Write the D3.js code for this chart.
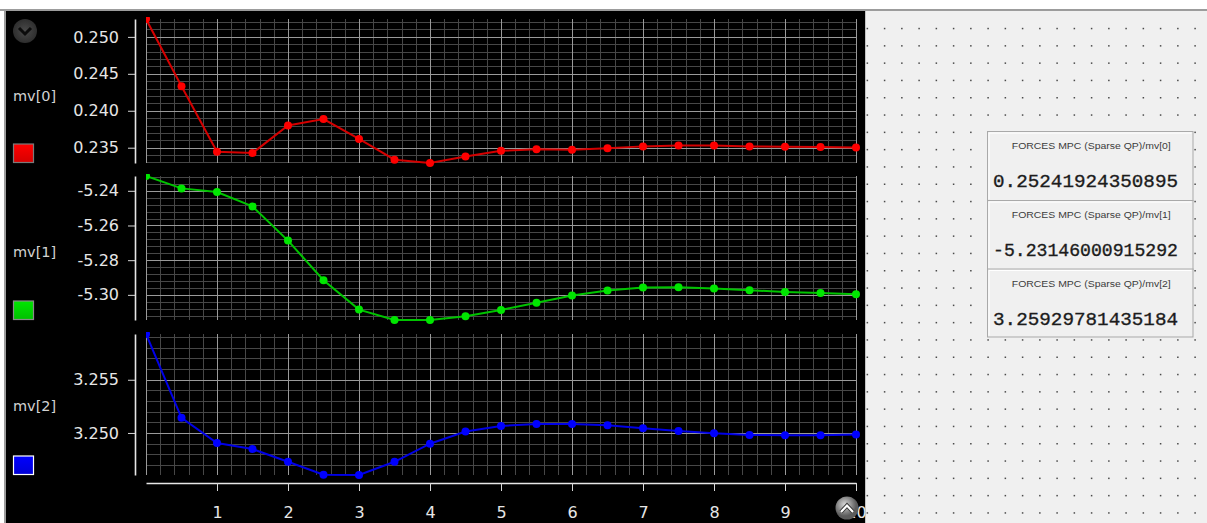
<!DOCTYPE html>
<html>
<head>
<meta charset="utf-8">
<script src="https://cdn.jsdelivr.net/npm/d3@7"></script>
<style>
  body { margin: 0; background: #fff; overflow: hidden; }
  svg { display: block; }
</style>
</head>
<body>
<svg id="chart" width="1207" height="523"></svg>
<script>
// ---- data ----
const timeSteps = [0, 0.5, 1, 1.5, 2, 2.5, 3, 3.5, 4, 4.5, 5, 5.5, 6, 6.5, 7, 7.5, 8, 8.5, 9, 9.5, 10]
const mv0 = [0.25242, 0.24332, 0.23446, 0.23428, 0.23801, 0.23888, 0.23618, 0.23338, 0.23293, 0.23382, 0.23459,
  0.23478, 0.23473, 0.23491, 0.23518, 0.23531, 0.23531, 0.23518, 0.23514, 0.23509, 0.23504]
const mv1 = [-5.23146, -5.2386, -5.2407, -5.2490, -5.2687, -5.2916, -5.3085, -5.3145, -5.3145, -5.3124, -5.3087,
  -5.3046, -5.3004, -5.2975, -5.2958, -5.2956, -5.2964, -5.2973, -5.2983, -5.2990, -5.2996]
const mv2 = [3.25930, 3.25142, 3.24906, 3.24849, 3.24729, 3.24608, 3.24605, 3.24729, 3.24899, 3.25013, 3.25066,
  3.25085, 3.25085, 3.25073, 3.25045, 3.25019, 3.24997, 3.24981, 3.24978, 3.24978, 3.24985]
const seriesNames = ['mv[0]', 'mv[1]', 'mv[2]']
const yMajorSteps = [0.005, 0.02, 0.005]
const yDecimals = [3, 2, 3]
const xTickValues = [1, 2, 3, 4, 5, 6, 7, 8, 9, 10]
const displayTitles = ['FORCES MPC (Sparse QP)/mv[0]', 'FORCES MPC (Sparse QP)/mv[1]', 'FORCES MPC (Sparse QP)/mv[2]']
const displayValues = ['0.25241924350895', '-5.23146000915292', '3.25929781435184']

// ---- layout / style ----
const W = 1207
const H = 523
const bands = [[19, 163], [176, 320], [334, 475]]
const labelBaselines = [101, 257, 411]
const lineColors = ['#d40000', '#00c400', '#0000e6']
const dotColors = ['#ff0000', '#00e600', '#0000ff']
const swatchStroke = ['#7a7a7a', '#8a8a8a', '#ffffff']
const tickFont = 'DejaVu Sans, Verdana, sans-serif'

const svg = d3.select('#chart')
const defs = svg.append('defs')

const series = [mv0, mv1, mv2]
const x = d3.scaleLinear().domain([0, 10]).range([146, 856])

// ticks at multiples of a step, without float drift
const stepTicks = (domain, step) => {
  const [d0, d1] = domain[0] < domain[1] ? domain : [domain[1], domain[0]]
  const k0 = Math.ceil(d0 / step - 1e-6)
  const k1 = Math.floor(d1 / step + 1e-6)
  return d3.range(k0, k1 + 1).map(k => +(k * step).toFixed(6))
}

// window frame
svg.append('rect').attr('width', W).attr('height', H).attr('fill', '#ffffff')
svg.append('rect').attr('x', 0).attr('y', 9).attr('width', W).attr('height', 2).attr('fill', '#9c9c9c')
svg.append('rect').attr('x', 4).attr('y', 9).attr('width', 2).attr('height', H).attr('fill', '#9c9c9c')
svg.append('rect').attr('x', 6).attr('y', 11).attr('width', 859).attr('height', H - 11).attr('fill', '#000')

const xMinor = stepTicks(x.domain(), 0.2).filter(v => Math.abs(v - Math.round(v)) > 1e-6)
const xMajor = stepTicks(x.domain(), 1)

series.forEach((values, i) => {
  const [top, bottom] = bands[i]
  const y = d3.scaleLinear().domain(d3.extent(values)).range([bottom, top])
  const step = yMajorSteps[i]
  const yMajor = stepTicks(y.domain(), step)
  const yMinor = stepTicks(y.domain(), step / 5).filter(v => !yMajor.some(m => Math.abs(m - v) < 1e-7))

  const g = svg.append('g').attr('class', 'panel panel-' + i)

  // grid
  const grid = g.append('g').attr('class', 'grid')
  grid.selectAll('line.hmin').data(yMinor).join('line')
    .attr('x1', x.range()[0]).attr('x2', x.range()[1])
    .attr('y1', d => Math.round(y(d)) + 0.5).attr('y2', d => Math.round(y(d)) + 0.5)
    .attr('stroke', '#474747')
  grid.selectAll('line.vmin').data(xMinor).join('line')
    .attr('x1', d => Math.round(x(d)) + 0.5).attr('x2', d => Math.round(x(d)) + 0.5)
    .attr('y1', top).attr('y2', bottom)
    .attr('stroke', '#474747')
  grid.selectAll('line.hmaj').data(yMajor).join('line')
    .attr('x1', x.range()[0]).attr('x2', x.range()[1])
    .attr('y1', d => Math.round(y(d)) + 0.5).attr('y2', d => Math.round(y(d)) + 0.5)
    .attr('stroke', '#9a9a9a')
  grid.selectAll('line.vmaj').data(xMajor).join('line')
    .attr('x1', d => Math.round(x(d)) + 0.5).attr('x2', d => Math.round(x(d)) + 0.5)
    .attr('y1', top).attr('y2', bottom)
    .attr('stroke', '#9a9a9a')

  // clip so the first sample is cut at the frame edge like the scope does
  defs.append('clipPath').attr('id', 'clip-' + i)
    .append('rect')
    .attr('x', x.range()[0]).attr('y', top - 2)
    .attr('width', x.range()[1] - x.range()[0] + 6).attr('height', bottom - top + 7)

  const plot = g.append('g').attr('clip-path', `url(#clip-${i})`)
  const pts = timeSteps.map((t, k) => [t, values[k]])
  plot.append('path')
    .datum(pts)
    .attr('fill', 'none')
    .attr('stroke', lineColors[i])
    .attr('stroke-width', 2)
    .attr('d', d3.line().x(d => x(d[0])).y(d => y(d[1])))
  plot.selectAll('circle').data(pts).join('circle')
    .attr('cx', d => x(d[0]))
    .attr('cy', d => y(d[1]))
    .attr('r', 4)
    .attr('fill', dotColors[i])

  // y axis
  const yAxisG = g.append('g').attr('transform', 'translate(135,0)')
  yAxisG.call(d3.axisLeft(y).tickValues(yMinor).tickSize(3).tickSizeOuter(0).tickFormat(''))
  yAxisG.call(d3.axisLeft(y).tickValues(yMajor).tickSize(7).tickSizeOuter(0).tickPadding(9)
    .tickFormat(d => d.toFixed(yDecimals[i])))
  yAxisG.selectAll('.domain').attr('stroke', '#e6e6e6').attr('stroke-width', 1.6)
  yAxisG.selectAll('.tick line').attr('stroke', '#d8d8d8')
  yAxisG.selectAll('text')
    .attr('fill', '#e6e6e6')
    .attr('font-size', 16)
    .attr('font-family', tickFont)

  // series label + swatch
  g.append('text')
    .attr('x', 13).attr('y', labelBaselines[i])
    .attr('fill', '#d2d2d2')
    .attr('font-size', 14.5)
    .attr('font-family', tickFont)
    .text(seriesNames[i])
  const swG = defs.append('linearGradient').attr('id', 'sw-' + i).attr('x1', 0).attr('y1', 0).attr('x2', 0).attr('y2', 1)
  swG.append('stop').attr('offset', '0%').attr('stop-color', dotColors[i])
  swG.append('stop').attr('offset', '100%').attr('stop-color', d3.color(dotColors[i]).darker(0.5))
  g.append('rect')
    .attr('x', 13.5).attr('y', bottom - 19)
    .attr('width', 20).attr('height', 18.5)
    .attr('fill', `url(#sw-${i})`)
    .attr('stroke', swatchStroke[i])
    .attr('stroke-width', 1.2)
})

// shared x axis under the last panel
const xAxisG = svg.append('g').attr('transform', 'translate(0,483)')
xAxisG.call(d3.axisBottom(x).tickValues(xMinor).tickSize(4).tickSizeOuter(0).tickFormat(''))
xAxisG.call(d3.axisBottom(x).tickValues(xTickValues).tickSize(8).tickSizeOuter(0).tickPadding(16).tickFormat(d3.format('d')))
xAxisG.selectAll('.domain').attr('stroke', '#e6e6e6').attr('stroke-width', 1.6)
xAxisG.selectAll('.tick line').attr('stroke', '#d8d8d8')
xAxisG.selectAll('text')
  .attr('fill', '#e6e6e6')
  .attr('font-size', 16)
  .attr('font-family', tickFont)

// scope buttons
const btnDark = defs.append('radialGradient').attr('id', 'btn-dark')
btnDark.append('stop').attr('offset', '0%').attr('stop-color', '#4a4a4a')
btnDark.append('stop').attr('offset', '100%').attr('stop-color', '#2e2e2e')
svg.append('circle').attr('cx', 25).attr('cy', 31).attr('r', 12).attr('fill', 'url(#btn-dark)')
svg.append('path').attr('d', 'M19,28 L25,34 L31,28').attr('fill', 'none').attr('stroke', '#0c0c0c').attr('stroke-width', 3)

const btnLight = defs.append('radialGradient').attr('id', 'btn-light').attr('cx', '40%').attr('cy', '35%')
btnLight.append('stop').attr('offset', '0%').attr('stop-color', '#d8d8d8')
btnLight.append('stop').attr('offset', '100%').attr('stop-color', '#5c5c5c')
svg.append('circle').attr('cx', 847).attr('cy', 508).attr('r', 11.5).attr('fill', 'url(#btn-light)')
svg.append('path').attr('d', 'M841,512 L847,505.5 L853,512').attr('fill', 'none').attr('stroke', '#333').attr('stroke-width', 4)
svg.append('path').attr('d', 'M841,512 L847,505.5 L853,512').attr('fill', 'none').attr('stroke', '#fff').attr('stroke-width', 2.2)

// right-hand model canvas with display blocks
const side = svg.append('g').attr('class', 'canvas')
side.append('rect').attr('x', 865).attr('y', 11).attr('width', W - 865).attr('height', H - 11).attr('fill', '#f0f0f0')
side.append('line').attr('x1', 865.5).attr('x2', 865.5).attr('y1', 11).attr('y2', H).attr('stroke', '#c4c4c4')

const dotXs = d3.range(867.3, W, 17.25)
const dotYs = d3.range(28.5, H, 17.3)
side.selectAll('rect.dot')
  .data(d3.cross(dotXs, dotYs))
  .join('rect')
  .attr('class', 'dot')
  .attr('x', d => d[0] - 0.7).attr('y', d => d[1] - 0.7)
  .attr('width', 1.5).attr('height', 1.5)
  .attr('fill', '#4a4a4a')

const boxTops = [131.5, 200.5, 269]
displayValues.forEach((val, i) => {
  const b = side.append('g').attr('transform', `translate(987.5,${boxTops[i]})`)
  const bw = 205.5
  const bh = i === 2 ? 68 : 69
  b.append('rect').attr('width', bw).attr('height', bh).attr('fill', '#f0f0f0').attr('stroke', '#a9a9a9')
  b.append('path').attr('d', `M1.5,${bh - 1.5} V1.5 H${bw - 1.5}`).attr('fill', 'none').attr('stroke', '#ffffff')
  b.append('text')
    .attr('x', bw / 2 + 1).attr('y', 17.5)
    .attr('text-anchor', 'middle')
    .attr('font-size', 9.6)
    .attr('font-family', 'Liberation Sans, Arial, sans-serif')
    .attr('fill', '#3c3c3c')
    .attr('textLength', 159)
    .attr('lengthAdjust', 'spacingAndGlyphs')
    .text(displayTitles[i])
  const fs = Math.min(19.3, 185 / (val.length * 0.6))
  b.append('text')
    .attr('x', 5.5).attr('y', 55.5)
    .attr('font-size', fs)
    .attr('font-family', 'Liberation Mono, Courier New, monospace')
    .attr('fill', '#1c1c1c')
    .attr('stroke', '#1c1c1c')
    .attr('stroke-width', 0.35)
    .attr('textLength', val.length * 0.6 * fs)
    .text(val)
})
</script>
</body>
</html>
